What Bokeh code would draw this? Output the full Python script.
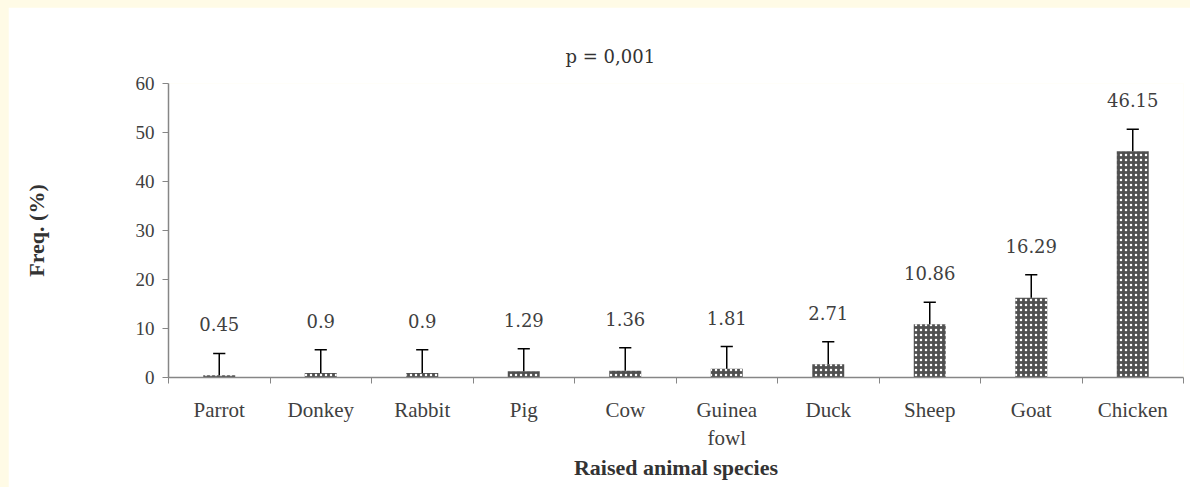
from bokeh.plotting import figure
from bokeh.models import Range1d, FixedTicker, Title, ColumnDataSource
from bokeh.core.properties import value
from bokeh.embed import file_html
from bokeh.resources import INLINE

species = ["Parrot", "Donkey", "Rabbit", "Pig", "Cow", "Guinea\nfowl", "Duck", "Sheep", "Goat", "Chicken"]
freq = [0.45, 0.9, 0.9, 1.29, 1.36, 1.81, 2.71, 10.86, 16.29, 46.15]
err = [4.45, 4.75, 4.75, 4.6, 4.7, 4.5, 4.6, 4.5, 4.7, 4.5]
y_ticks = [0, 10, 20, 30, 40, 50, 60]

FONT = "Liberation Serif"
NUMFONT = "DejaVu Serif"
TXT = "#404040"

xc = [i + 0.5 for i in range(len(species))]
top_err = [f + e for f, e in zip(freq, err)]
src = ColumnDataSource(dict(
    x=xc, freq=freq, top=top_err,
    x0=[x - 0.06 for x in xc], x1=[x + 0.06 for x in xc],
    lab=[str(v) for v in freq],
))

p = figure(width=1182, height=480, output_backend="svg", toolbar_location=None,
           x_range=Range1d(0, len(species)), y_range=Range1d(0, 60),
           min_border_left=160, min_border_right=7, min_border_top=76, min_border_bottom=110)
p.outline_line_color = None
p.xgrid.visible = False
p.ygrid.visible = False
p.background_fill_color = "white"
p.border_fill_color = "white"

p.vbar(x="x", top="freq", bottom=0, width=0.315, source=src,
       fill_color="#505050", line_color=None,
       hatch_pattern="dot", hatch_color="white", hatch_scale=5, hatch_weight=1.2)
p.segment(x0="x", y0="freq", x1="x", y1="top", source=src, line_color="black", line_width=1.5)
p.segment(x0="x0", y0="top", x1="x1", y1="top", source=src, line_color="black", line_width=1.5)
p.text(x="x", y="top", text="lab", source=src, y_offset=-29,
       text_align="center", text_baseline="middle",
       text_font=value(NUMFONT), text_font_size="18px", text_color=TXT)

# x axis
xa = p.xaxis[0]
xa.ticker = FixedTicker(ticks=xc, minor_ticks=list(range(len(species) + 1)))
xa.major_label_overrides = {x: s for x, s in zip(xc, species)}
xa.major_tick_out = 0
xa.major_tick_in = 0
xa.minor_tick_out = 6
xa.minor_tick_in = 0
xa.minor_tick_line_color = "#868686"
xa.axis_line_color = "#868686"
xa.axis_line_width = 1.5
xa.major_label_text_font = FONT
xa.major_label_text_font_size = "21px"
xa.major_label_text_color = TXT
xa.major_label_standoff = 14
xa.axis_label = "Raised animal species"
xa.axis_label_text_font = FONT
xa.axis_label_text_font_size = "22px"
xa.axis_label_text_font_style = "bold"
xa.axis_label_text_color = "#333333"
xa.axis_label_standoff = 2

# y axis
ya = p.yaxis[0]
ya.ticker = FixedTicker(ticks=y_ticks, minor_ticks=[])
ya.major_tick_out = 6
ya.major_tick_in = 0
ya.major_tick_line_color = "#868686"
ya.axis_line_color = "#868686"
ya.axis_line_width = 1.5
ya.major_label_text_font = FONT
ya.major_label_text_font_size = "19px"
ya.major_label_text_color = TXT
ya.major_label_standoff = 8
ya.axis_label = "Freq. (%)"
ya.axis_label_text_font = FONT
ya.axis_label_text_font_size = "22px"
ya.axis_label_text_font_style = "bold"
ya.axis_label_text_color = "#333333"
ya.axis_label_standoff = 84

p.add_layout(Title(text="p = 0,001", align="left", offset=397, standoff=33,
                   text_font=NUMFONT, text_font_size="18px", text_font_style="normal",
                   text_color="#333333"), "above")

html = file_html(p, INLINE)
html = html.replace("</head>",
                    "<style>html, body { background-color:#FFFBE6 !important; }"
                    " body { padding: 7px 0 0 8px !important; }</style></head>", 1)
open("out.html", "w").write(html)
